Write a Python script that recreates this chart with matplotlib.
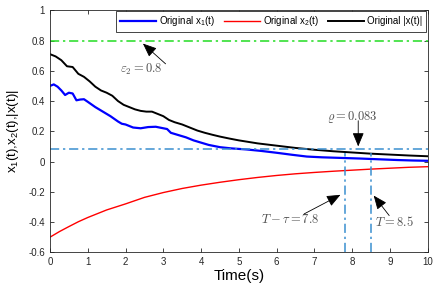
import matplotlib
matplotlib.use("Agg")
import matplotlib.pyplot as plt
from matplotlib.ticker import FuncFormatter

plt.rcParams['font.family'] = ['Liberation Sans', 'DejaVu Sans']
plt.rcParams['mathtext.fontset'] = 'custom'
plt.rcParams['mathtext.rm'] = 'Liberation Sans'
plt.rcParams['mathtext.it'] = 'Liberation Sans:italic'

# data
t_x1 = [0, 0.1, 0.2, 0.3, 0.4, 0.5, 0.6, 0.7, 0.8, 0.9, 1.0, 1.2, 1.4, 1.6, 1.8, 1.9,
        2.0, 2.2, 2.4, 2.6, 2.8, 3.0, 3.1, 3.2, 3.4, 3.6, 3.8, 4.0, 4.2, 4.5, 4.8,
        5.2, 5.6, 6.0, 6.4, 6.8, 7.2, 7.7, 8.2, 8.7, 9.2, 9.6, 10]
x1 = [0.50, 0.51, 0.495, 0.47, 0.44, 0.455, 0.45, 0.405, 0.41, 0.412, 0.395, 0.36,
      0.33, 0.30, 0.265, 0.25, 0.245, 0.225, 0.22, 0.228, 0.23, 0.22, 0.215, 0.19,
      0.175, 0.16, 0.14, 0.125, 0.11, 0.095, 0.087, 0.08, 0.07, 0.058, 0.045, 0.033,
      0.028, 0.024, 0.02, 0.015, 0.01, 0.007, 0.005]

t_x2 = [0, 0.25, 0.5, 0.75, 1, 1.5, 2, 2.5, 3, 3.5, 4, 4.5, 5, 5.5, 6, 6.5, 7, 7.5, 8,
        8.5, 9, 9.5, 10]
x2 = [-0.5, -0.463, -0.43, -0.398, -0.37, -0.32, -0.28, -0.237, -0.205, -0.178, -0.156,
      -0.137, -0.12, -0.105, -0.092, -0.081, -0.072, -0.064, -0.057, -0.05, -0.044,
      -0.038, -0.034]

t_norm = [0, 0.15, 0.3, 0.45, 0.6, 0.75, 0.9, 1.05, 1.2, 1.35, 1.5, 1.65, 1.8, 1.95,
          2.1, 2.25, 2.4, 2.55, 2.7, 2.85, 3.0, 3.15, 3.3, 3.5, 3.7, 3.9, 4.1, 4.3,
          4.5, 4.75, 5.0, 5.5, 6.0, 6.5, 7.0, 7.5, 8.0, 8.5, 9.0, 9.5, 10]
xnorm = [0.71, 0.695, 0.67, 0.63, 0.625, 0.58, 0.56, 0.53, 0.495, 0.47, 0.455, 0.435,
         0.40, 0.375, 0.36, 0.345, 0.335, 0.33, 0.33, 0.315, 0.30, 0.275, 0.26, 0.245,
         0.225, 0.205, 0.19, 0.177, 0.165, 0.152, 0.14, 0.12, 0.105, 0.09, 0.078,
         0.068, 0.06, 0.052, 0.046, 0.04, 0.035]

eps2 = 0.8
rho = 0.083
T_tau = 7.8
T_end = 8.5

fig = plt.figure(figsize=(4.42, 2.90), dpi=100)
ax = fig.add_axes([0.1131, 0.130, 0.8546, 0.8345])

ax.plot(t_x1, x1, color='#0000ff', lw=1.6, label='Original x$_1$(t)')
ax.plot(t_x2, x2, color='#ff0000', lw=1.0, label='Original x$_2$(t)')
ax.plot(t_norm, xnorm, color='black', lw=1.4, label='Original |x(t)|')

dashdot = (0, (6, 2.5, 1.5, 2.5))
ax.axhline(eps2, color='#22dd22', lw=1.1, ls=dashdot)
ax.axhline(rho, color='#3a8fd0', lw=1.1, ls=dashdot)
ax.vlines([T_tau, T_end], -0.6, 0.057, color='#3a8fd0', lw=1.1, ls=dashdot)

# annotation texts and arrows (text centre, arrow tail, arrow tip)
ann_color = '#4d4d4d'
notes = [
    (r'$\varepsilon_2 = 0.8$', (2.42, 0.607), (3.06, 0.646), (2.46, 0.78)),
    (r'$\varrho = 0.083$', (8.0, 0.297), (8.16, 0.27), (8.16, 0.1)),
    (r'$T-\tau = 7.8$', (6.35, -0.383), (6.73, -0.346), (7.69, -0.22)),
    (r'$T = 8.5$', (9.13, -0.40), (8.98, -0.357), (8.57, -0.225)),
]
for label, pos, tail, tip in notes:
    ax.text(pos[0], pos[1], label, ha='center', va='center', color=ann_color,
            fontsize=9, math_fontfamily='cm')
    ax.annotate('', xy=tip, xytext=tail,
                arrowprops=dict(arrowstyle='-|>,head_length=0.6,head_width=0.25',
                                color='black', lw=0.6, mutation_scale=14,
                                shrinkA=0, shrinkB=0))

ax.set_xlim(0, 10)
ax.set_ylim(-0.6, 1)
ax.set_xticks(range(0, 11))
ax.set_yticks([-0.6, -0.4, -0.2, 0, 0.2, 0.4, 0.6, 0.8, 1])
ax.yaxis.set_major_formatter(FuncFormatter(lambda v, p: '%g' % round(v, 2)))
ax.tick_params(direction='in', top=True, right=True, labelsize=7, length=3,
               width=0.6, colors='#262626')
for s in ax.spines.values():
    s.set_linewidth(0.6)
    s.set_color('#262626')

ax.set_xlabel('Time(s)', fontsize=11, labelpad=1)
ax.set_ylabel('x$_1$(t),x$_2$(t),|x(t)|', fontsize=9.5, labelpad=5)

leg = ax.legend(loc='upper right', bbox_to_anchor=(0.995, 0.997), ncol=3, fontsize=7,
                handlelength=3.7, columnspacing=0.9, handletextpad=0.35,
                borderaxespad=0, borderpad=0.35, fancybox=False, framealpha=1,
                edgecolor='#262626')
leg.get_frame().set_linewidth(0.6)

fig.savefig('out.png', dpi=100)
